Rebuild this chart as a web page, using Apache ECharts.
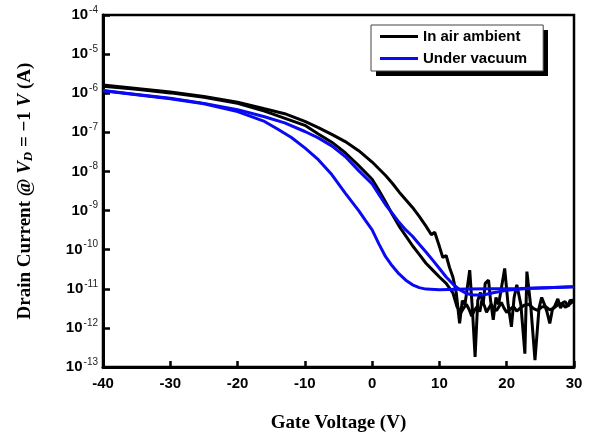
<!DOCTYPE html>
<html>
<head>
<meta charset="utf-8">
<script src="https://cdn.jsdelivr.net/npm/echarts@6/dist/echarts.min.js"></script>
<style>
html,body{margin:0;padding:0;background:#fff;}
#chart{width:590px;height:440px;}
</style>
</head>
<body>
<div id="chart"></div>
<script>
// Gate voltage (V) and drain current (A)
var airSweep1V = [-40,-35,-30,-25,-20,-16,-13,-10,-8,-6,-4,-2,0,1,2,3,4,5,6,7,8,8.8,9.3,10,10.5,11,11.5,12,12.5,13,13.4,13.8,14.5,14.9,15.3,15.7,16.1,16.5,16.8,17.3,17.6,18,18.4,18.8,19.7,20.2,20.7,21.1,21.5,22.1,22.7,23,23.6,24.2,24.8,25.2,25.6,26,26.4,26.8,27.2,27.6,28,28.4,28.7,29.1,29.4,30];
var airSweep1I = [1.62e-6,1.32e-6,1.07e-6,8.3e-7,5.9e-7,4.0e-7,3.0e-7,1.9e-7,1.32e-7,8.9e-8,5.8e-8,3.4e-8,1.74e-8,1.17e-8,7.9e-9,5.0e-9,3.0e-9,1.9e-9,1.2e-9,7.1e-10,4.0e-10,2.4e-10,2.8e-10,1.2e-10,6.3e-11,7.1e-11,3.5e-11,2.0e-11,7.9e-12,1.3e-12,5.0e-12,4.0e-12,3.0e-11,3.0e-12,1.8e-13,5.0e-12,8.0e-12,4.0e-12,1.38e-11,1.66e-11,5.0e-12,1.6e-12,6.0e-12,4.0e-12,3.3e-11,4.0e-12,1.07e-12,6.0e-12,1.26e-11,4.0e-12,2.2e-13,2.75e-11,3.2e-12,1.5e-13,3.2e-12,6.0e-12,4.0e-12,2.5e-12,1.3e-12,3.0e-12,3.8e-12,5.5e-12,3.2e-12,4.5e-12,4.7e-12,3.5e-12,5.0e-12,5.1e-12];

var airSweep2V = [-40,-35,-30,-25,-20,-16,-12,-10,-8,-6,-4,-2,0,1,2,3,4,5,6,7,8,9,10,11,12,12.6,13.2,13.6,14,14.4,14.8,15.2,15.6,16,16.3,16.7,17,17.4,17.7,18.1,18.5,18.9,19.2,19.6,20,20.5,21,21.5,22,22.6,23.3,24,24.6,25.2,25.8,26.4,27,27.6,28.2,28.7,29.2,29.6,30];
var airSweep2I = [1.51e-6,1.26e-6,1.02e-6,7.9e-7,5.5e-7,3.5e-7,2.0e-7,1.51e-7,9.1e-8,5.6e-8,3.0e-8,1.41e-8,6.3e-9,3.3e-9,1.66e-9,7.9e-10,4.0e-10,2.24e-10,1.26e-10,7.6e-11,4.5e-11,3.0e-11,2.0e-11,1.38e-11,7.9e-12,3.5e-12,2.5e-12,3.2e-12,4.0e-12,3.0e-12,2.0e-12,2.8e-12,3.5e-12,2.6e-12,5.0e-12,3.6e-12,2.5e-12,3.3e-12,4.0e-12,3.0e-12,2.8e-12,3.6e-12,4.5e-12,3.2e-12,2.5e-12,3.0e-12,3.5e-12,2.7e-12,3.2e-12,3.8e-12,4.0e-12,3.1e-12,2.8e-12,3.4e-12,3.5e-12,2.9e-12,3.2e-12,3.9e-12,4.2e-12,3.4e-12,3.8e-12,4.4e-12,5.0e-12];

var vacSweep1V = [-40,-35,-30,-25,-20,-16,-14,-12,-10,-8,-6,-4,-2,-1,0,1,2,3,4,5,6,7,8,10,14,18,22,26,30];
var vacSweep1I = [1.15e-6,9.1e-7,7.2e-7,5.4e-7,3.4e-7,1.9e-7,1.2e-7,7.4e-8,4.0e-8,2.0e-8,8.3e-9,2.8e-9,1.0e-9,5.6e-10,3.2e-10,1.41e-10,6.6e-11,3.8e-11,2.4e-11,1.66e-11,1.26e-11,1.07e-11,9.8e-12,9.5e-12,9.8e-12,1.0e-11,1.02e-11,1.07e-11,1.12e-11];

var vacSweep2V = [-40,-35,-30,-25,-20,-16,-13,-10,-8,-6,-4,-2,0,1,2,3,4,5,6,7,8,9,10,11,12,13,14,15,16.5,18,20,23,26,30];
var vacSweep2I = [1.17e-6,9.3e-7,7.4e-7,5.5e-7,3.8e-7,2.5e-7,1.74e-7,1.05e-7,7.2e-8,4.5e-8,2.4e-8,1.05e-8,4.8e-9,2.6e-9,1.41e-9,8.5e-10,5.0e-10,3.2e-10,2.2e-10,1.38e-10,8.7e-11,5.4e-11,3.3e-11,2.0e-11,1.32e-11,9.5e-12,7.6e-12,6.9e-12,6.9e-12,7.9e-12,9.1e-12,1.02e-11,1.07e-11,1.12e-11];

var legendNames = ['In air ambient', 'Under vacuum'];
var xTickMin = -40, xTickMax = 30, xTickStep = 10;
var yTickMin = 1e-13, yTickMax = 1e-4;

function pairs(v, i) { return v.map(function (x, k) { return [x, i[k]]; }); }

var chart = echarts.init(document.getElementById('chart'), null, {renderer: 'canvas'});
var BLACK = '#000000', BLUE = '#0a0af2';
function mkSeries(name, color, v, i) {
  return {
    name: name, type: 'line', data: pairs(v, i), showSymbol: false, symbol: 'none',
    lineStyle: {color: color, width: 3}, itemStyle: {color: color}, animation: false
  };
}
var option = {
  animation: false,
  backgroundColor: '#fff',
  grid: {left: 103, right: 16, top: 15, bottom: 73, show: true, borderColor: '#000', borderWidth: 2.5},
  graphic: [{
    type: 'rect', left: 376, top: 30, z: 3, silent: true,
    shape: {width: 172, height: 46},
    style: {fill: '#000'}
  }],
  legend: {
    data: legendNames, orient: 'vertical', left: 371, top: 25, z: 5,
    backgroundColor: '#fff', borderColor: '#444', borderWidth: 1,
    padding: [4, 16, 5, 9], itemWidth: 38, itemHeight: 3, itemGap: 7, icon: 'rect',
    textStyle: {fontFamily: 'Liberation Sans', fontWeight: 'bold', fontSize: 15, color: '#000'}
  },
  xAxis: {
    type: 'value', min: xTickMin, max: xTickMax, interval: xTickStep,
    axisLine: {onZero: false, lineStyle: {color: '#000', width: 3}},
    axisTick: {inside: true, length: 6, lineStyle: {color: '#000', width: 2.5}},
    axisLabel: {margin: 9, fontFamily: 'Liberation Sans', fontWeight: 'bold', fontSize: 15, color: '#000'},
    splitLine: {show: false},
    name: 'Gate Voltage (V)', nameLocation: 'middle', nameGap: 47,
    nameTextStyle: {fontFamily: 'Liberation Serif', fontWeight: 'bold', fontSize: 19, color: '#000'}
  },
  yAxis: {
    type: 'log', logBase: 10, min: yTickMin, max: yTickMax, interval: 1,
    axisLine: {onZero: false, lineStyle: {color: '#000', width: 3}},
    axisTick: {inside: true, length: 7, lineStyle: {color: '#000', width: 2.5}},
    axisLabel: {
      margin: 5, color: '#000',
      formatter: function (val) { return '{b|10}{s|' + Math.round(Math.log10(val)) + '}'; },
      rich: {
        b: {fontFamily: 'Liberation Sans', fontWeight: 'bold', fontSize: 15, color: '#000', lineHeight: 20},
        s: {fontFamily: 'Liberation Sans', fontSize: 10, color: '#222', verticalAlign: 'top', lineHeight: 20, padding: [0, 0, 8, 1]}
      }
    },
    splitLine: {show: false},
    name: '{t|Drain Current @ }{i|V}{d|D}{t| = −1 }{i|V}{t| (A)}',
    nameLocation: 'middle', nameGap: 68, nameRotate: 90,
    nameTextStyle: {
      color: '#000',
      rich: {
        t: {fontFamily: 'Liberation Serif', fontWeight: 'bold', fontSize: 19, color: '#000'},
        i: {fontFamily: 'Liberation Serif', fontWeight: 'bold', fontStyle: 'italic', fontSize: 19, color: '#000'},
        d: {fontFamily: 'Liberation Serif', fontWeight: 'bold', fontStyle: 'italic', fontSize: 13, color: '#000', verticalAlign: 'bottom', padding: [7, 0, 0, 0]}
      }
    }
  },
  series: [
    mkSeries(legendNames[0], BLACK, airSweep1V, airSweep1I),
    mkSeries(legendNames[0], BLACK, airSweep2V, airSweep2I),
    mkSeries(legendNames[1], BLUE, vacSweep1V, vacSweep1I),
    mkSeries(legendNames[1], BLUE, vacSweep2V, vacSweep2I)
  ]
};
chart.setOption(option);
</script>
</body>
</html>
